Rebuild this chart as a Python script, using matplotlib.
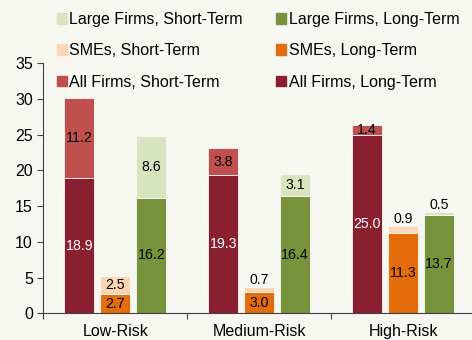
import matplotlib
matplotlib.use("Agg")
import matplotlib.pyplot as plt
import numpy as np
from matplotlib.patches import Patch

plt.rcParams['font.family'] = ['Liberation Sans', 'DejaVu Sans']
plt.rcParams['font.size'] = 11.5

categories = ["Low-Risk", "Medium-Risk", "High-Risk"]
all_long = [18.9, 19.3, 25.0]
all_short = [11.2, 3.8, 1.4]
sme_long = [2.7, 3.0, 11.3]
sme_short = [2.5, 0.7, 0.9]
large_long = [16.2, 16.4, 13.7]
large_short = [8.6, 3.1, 0.5]

series = [
    ("All Firms", all_long, all_short, "#8A1F30", "#C0504D", "white"),
    ("SMEs", sme_long, sme_short, "#E46C0A", "#FCD5B5", "black"),
    ("Large Firms", large_long, large_short, "#77933C", "#D7E4BD", "black"),
]

bg = "#F7F7F2"
fs = 11.5
lbl_fs = 10.2
fig = plt.figure(figsize=(4.72, 3.4), dpi=100, facecolor=bg)
ax = fig.add_axes([43.3 / 472, 1 - 313.3 / 340, (475 - 43.3) / 472, 250 / 340])
ax.set_facecolor(bg)

x = np.arange(len(categories))
width = 0.207
offsets = [-0.25, 0.0, 0.25]

for (name, lng, sht, c_long, c_short, long_txt), off in zip(series, offsets):
    xs = x + off
    ax.bar(xs, lng, width, color=c_long, edgecolor="#FAFAF7", linewidth=0.6)
    ax.bar(xs, sht, width, bottom=lng, color=c_short, edgecolor="#FAFAF7", linewidth=0.6)
    for xi, l, s in zip(xs, lng, sht):
        ax.text(xi, l / 2, f"{l:.1f}", ha="center", va="center",
                color=(long_txt if l > 15 else "black"), fontsize=lbl_fs)
        if s >= 1.0:
            ax.text(xi, l + s / 2, f"{s:.1f}", ha="center", va="center", color="black", fontsize=lbl_fs)
        else:
            ax.annotate(f"{s:.1f}", (xi, l + s), xytext=(0, 5), textcoords="offset points",
                        ha="center", va="center", color="black", fontsize=lbl_fs)

ax.set_xlim(-0.5, 2.5)
ax.set_ylim(0, 35)
ax.set_yticks(np.arange(0, 36, 5))
ax.set_xticks(x)
ax.set_xticklabels(categories)
ax.set_xticks([-0.5, 0.5, 1.5, 2.5], minor=True)
ax.tick_params(axis="x", which="major", length=0, pad=7.5, labelsize=fs)
ax.tick_params(axis="x", which="minor", length=4, width=0.8, direction="out", color="#404040")
ax.tick_params(axis="y", length=4.5, width=0.8, direction="out", color="#404040", pad=3, labelsize=fs)
for sp in ["top", "right"]:
    ax.spines[sp].set_visible(False)
for sp in ["left", "bottom"]:
    ax.spines[sp].set_color("#404040")
    ax.spines[sp].set_linewidth(0.8)

leg_handles = [
    Patch(color="#D7E4BD"), Patch(color="#FCD5B5"), Patch(color="#C0504D"),
    Patch(color="#77933C"), Patch(color="#E46C0A"), Patch(color="#8A1F30"),
]
leg_labels = [
    "Large Firms, Short-Term", "SMEs, Short-Term", "All Firms, Short-Term",
    "Large Firms, Long-Term", "SMEs, Long-Term", "All Firms, Long-Term",
]
fig.legend(leg_handles, leg_labels, ncol=2, loc="upper left",
           bbox_to_anchor=(57 / 472, 1 - 12 / 340), frameon=False,
           handlelength=0.62, handleheight=0.62, handletextpad=0.15,
           labelspacing=1.02, columnspacing=2.1, borderpad=0, borderaxespad=0,
           fontsize=fs)

fig.savefig("out.png", dpi=100, facecolor=bg)
